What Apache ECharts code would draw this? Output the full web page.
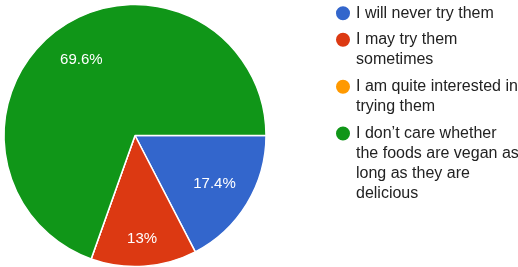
<!DOCTYPE html>
<html>
<head>
    <meta charset="utf-8"/>
    <title>Vegan foods</title>
    <script src="https://cdn.jsdelivr.net/npm/echarts@6/dist/echarts.min.js"></script>
    <style>
        html, body { margin: 0; padding: 0; background: #fff; }
    </style>
</head>
<body>
<div id="main" style="width: 518px;height:267px;"></div>
<script type="text/javascript">
    // answers (wrapped the way the legend shows them)
    var categories = [
        'I will never try them',
        'I may try them\nsometimes',
        'I am quite interested in\ntrying them',
        'I don\u2019t care whether\nthe foods are vegan as\nlong as they are\ndelicious'
    ];
    // number of responses per answer
    var values = [4, 3, 0, 16];

    var colors = ['#3366cc', '#dc3912', '#ff9900', '#109618'];
    var cx = 135, cy = 135.5, R = 131;
    var lineH = 20;
    // y of the first text line of each legend entry
    var legendY = [13.2, 39.8, 86.8, 133.5];

    var myChart = echarts.init(document.getElementById('main'));

    // one legend per entry; blank lines above the text keep the dot on its first line
    var legends = categories.map(function (name, i) {
        var n = name.split('\n').length;
        return {
            orient: 'vertical',
            left: 334,
            top: legendY[i] - lineH / 2 - (n - 1) * lineH,
            padding: 0,
            itemGap: 0,
            itemWidth: 16,
            itemHeight: 16,
            icon: 'circle',
            selectedMode: false,
            data: [name],
            formatter: function (s) {
                return new Array(n).join('\n') + s;
            },
            textStyle: {
                fontFamily: 'Arial, "Liberation Sans", sans-serif',
                fontSize: 16,
                lineHeight: lineH,
                color: '#222'
            }
        };
    });

    var option = {
        animation: false,
        color: colors,
        legend: legends,
        series: [{
            type: 'pie',
            center: [cx, cy],
            radius: [0, R],
            startAngle: 0,
            clockwise: true,
            avoidLabelOverlap: false,
            emphasis: { scale: false, disabled: true },
            itemStyle: { borderColor: '#fff', borderWidth: 1.5 },
            label: {
                position: 'inside',
                color: '#fff',
                fontFamily: 'Arial, "Liberation Sans", sans-serif',
                fontSize: 15,
                formatter: function (p) {
                    return Math.round(p.percent * 10) / 10 + '%';
                }
            },
            labelLine: { show: false },
            // google puts the labels further out than the middle of the radius
            labelLayout: function (p) {
                var lx = p.labelRect.x + p.labelRect.width / 2;
                var ly = p.labelRect.y + p.labelRect.height / 2;
                var dx = lx - cx, dy = ly - cy;
                var d = Math.sqrt(dx * dx + dy * dy) || 1;
                var k = (values[p.dataIndex] / 23 < 0.15 ? 104 : 93) / d;
                return { x: cx + dx * k, y: cy + dy * k, align: 'center', verticalAlign: 'middle' };
            },
            data: categories.map(function (name, i) {
                return { name: name, value: values[i], label: { show: values[i] > 0 } };
            })
        }]
    };

    myChart.setOption(option);
</script>
</body>
</html>
